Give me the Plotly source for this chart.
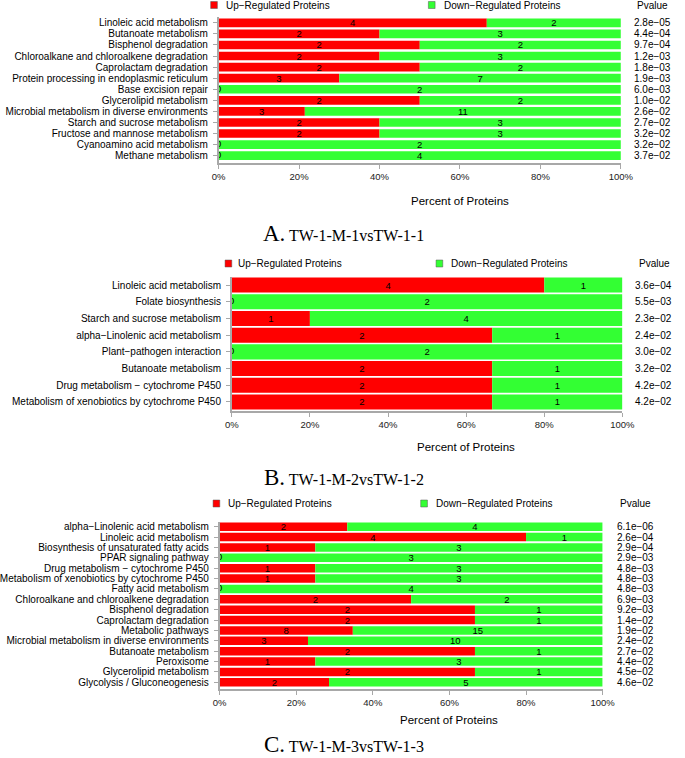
import plotly.graph_objects as go

W, H = 685, 758

# ---------------- data ----------------
a_pathways = ["Linoleic acid metabolism", "Butanoate metabolism", "Bisphenol degradation",
              "Chloroalkane and chloroalkene degradation", "Caprolactam degradation",
              "Protein processing in endoplasmic reticulum", "Base excision repair",
              "Glycerolipid metabolism", "Microbial metabolism in diverse environments",
              "Starch and sucrose metabolism", "Fructose and mannose metabolism",
              "Cyanoamino acid metabolism", "Methane metabolism"]
a_up = [4, 2, 2, 2, 2, 3, 0, 2, 3, 2, 2, 0, 0]
a_down = [2, 3, 2, 3, 2, 7, 2, 2, 11, 3, 3, 2, 4]
a_pvalues = ["2.8e−05", "4.4e−04", "9.7e−04", "1.2e−03", "1.8e−03", "1.9e−03", "6.0e−03",
             "1.0e−02", "2.6e−02", "2.7e−02", "3.2e−02", "3.2e−02", "3.7e−02"]

b_pathways = ["Linoleic acid metabolism", "Folate biosynthesis", "Starch and sucrose metabolism",
              "alpha−Linolenic acid metabolism", "Plant−pathogen interaction",
              "Butanoate metabolism", "Drug metabolism − cytochrome P450",
              "Metabolism of xenobiotics by cytochrome P450"]
b_up = [4, 0, 1, 2, 0, 2, 2, 2]
b_down = [1, 2, 4, 1, 2, 1, 1, 1]
b_pvalues = ["3.6e−04", "5.5e−03", "2.3e−02", "2.4e−02", "3.0e−02", "3.2e−02", "4.2e−02", "4.2e−02"]

c_pathways = ["alpha−Linolenic acid metabolism", "Linoleic acid metabolism",
              "Biosynthesis of unsaturated fatty acids", "PPAR signaling pathway",
              "Drug metabolism − cytochrome P450", "Metabolism of xenobiotics by cytochrome P450",
              "Fatty acid metabolism", "Chloroalkane and chloroalkene degradation",
              "Bisphenol degradation", "Caprolactam degradation", "Metabolic pathways",
              "Microbial metabolism in diverse environments", "Butanoate metabolism",
              "Peroxisome", "Glycerolipid metabolism", "Glycolysis / Gluconeogenesis"]
c_up = [2, 4, 1, 0, 1, 1, 0, 2, 2, 2, 8, 3, 2, 1, 2, 2]
c_down = [4, 1, 3, 3, 3, 3, 4, 2, 1, 1, 15, 10, 1, 3, 1, 5]
c_pvalues = ["6.1e−06", "2.6e−04", "2.9e−04", "2.9e−03", "4.8e−03", "4.8e−03", "4.8e−03",
             "6.9e−03", "9.2e−03", "1.4e−02", "1.9e−02", "2.4e−02", "2.7e−02", "4.4e−02",
             "4.5e−02", "4.6e−02"]

x_ticks = [0, 20, 40, 60, 80, 100]
x_ticktext = ["0%", "20%", "40%", "60%", "80%", "100%"]
legend_up = "Up−Regulated Proteins"
legend_down = "Down−Regulated Proteins"
x_title = "Percent of Proteins"
p_header = "Pvalue"
titles = [("A.", "TW-1-M-1vsTW-1-1"), ("B.", "TW-1-M-2vsTW-1-2"), ("C.", "TW-1-M-3vsTW-1-3")]

# ---------------- layout (pixel geometry) ----------------
panels = [
    dict(path=a_pathways, up=a_up, down=a_down, pv=a_pvalues,
         x0=212.3, x1=631.7, top=17.3, axis=163, pad=0.16, bw=0.78,
         leg_y=5, rsq=204, rtx=218, gsq=431, gtx=445, pvx=643, pvh=665,
         xt_y=201, title_y=233),
    dict(path=b_pathways, up=b_up, down=b_down, pv=b_pvalues,
         x0=226, x1=633.3, top=276.7, axis=411, pad=0.04, bw=0.9,
         leg_y=263.5, rsq=219, rtx=230, gsq=439, gtx=452, pvx=644, pvh=667,
         xt_y=447, title_y=477),
    dict(path=c_pathways, up=c_up, down=c_down, pv=c_pvalues,
         x0=213.3, x1=612.7, top=521.5, axis=689, pad=0.14, bw=0.82,
         leg_y=503.5, rsq=206.5, rtx=220, gsq=423, gtx=437, pvx=626, pvh=647,
         xt_y=720, title_y=744),
]

RED = "#FF0000"
GREEN = "#33FF33"
GRAY = "#A8A8A8"
SANS = "Liberation Sans, Arial, sans-serif"
SERIF = "Liberation Serif, Times New Roman, serif"

fig = go.Figure()
shapes, annotations = [], []
layout_axes = {}

for k, p in enumerate(panels):
    s = "" if k == 0 else str(k + 1)
    n = len(p["path"])
    ys = list(range(n))
    tot = [u + d for u, d in zip(p["up"], p["down"])]
    pct_up = [100.0 * u / t for u, t in zip(p["up"], tot)]
    pct_down = [100.0 * d / t for d, t in zip(p["down"], tot)]

    common = dict(orientation="h", width=p["bw"], xaxis="x" + s, yaxis="y" + s,
                  showlegend=False, textposition="inside", insidetextanchor="middle",
                  textangle=0, constraintext="none",
                  textfont=dict(family=SANS, size=9.5, color="black"))
    fig.add_trace(go.Bar(x=pct_up, y=ys, marker=dict(color=RED, line=dict(width=0)),
                         text=[str(u) if u > 0 else "" for u in p["up"]],
                         name=legend_up, **common))
    fig.add_trace(go.Bar(x=pct_down, y=ys, base=pct_up,
                         marker=dict(color=GREEN, line=dict(width=0)),
                         text=[str(d) for d in p["down"]], name=legend_down, **common))
    zi = [i for i, u in enumerate(p["up"]) if u == 0]
    if zi:
        fig.add_trace(go.Scatter(x=[pct_up[i] for i in zi], y=[ys[i] for i in zi],
                                 mode="text", text=[str(p["up"][i]) for i in zi],
                                 textfont=dict(family=SANS, size=9.5, color="black"),
                                 cliponaxis=True, showlegend=False,
                                 xaxis="x" + s, yaxis="y" + s))

    layout_axes["xaxis" + s] = dict(
        domain=[p["x0"] / W, p["x1"] / W], anchor="y" + s, range=[0, 100],
        tickvals=x_ticks, ticktext=x_ticktext, showline=True, linecolor=GRAY, linewidth=1.5,
        ticks="outside", ticklen=4, tickcolor=GRAY, showgrid=False, zeroline=False,
        tickfont=dict(family=SANS, size=9.5, color="#222"), fixedrange=True)
    layout_axes["yaxis" + s] = dict(
        domain=[1 - p["axis"] / H, 1 - p["top"] / H], anchor="x" + s,
        range=[n - 0.5 + p["pad"], -0.5], tickvals=ys, ticktext=p["path"],
        showline=True, linecolor=GRAY, linewidth=1.5, ticks="outside", ticklen=4,
        tickcolor=GRAY, showgrid=False, zeroline=False, ticklabelstandoff=3,
        tickfont=dict(family=SANS, size=10, color="black"), fixedrange=True)

    # legend squares + texts
    ly = 1 - p["leg_y"] / H
    sq = 7
    for xs, col in ((p["rsq"], RED), (p["gsq"], GREEN)):
        shapes.append(dict(type="rect", xref="paper", yref="paper",
                           x0=xs / W, x1=(xs + sq) / W, y0=ly - sq / 2 / H, y1=ly + sq / 2 / H,
                           fillcolor=col, line=dict(color="#555", width=0.5)))
    for xt, txt in ((p["rtx"], legend_up), (p["gtx"], legend_down)):
        annotations.append(dict(xref="paper", yref="paper", x=xt / W, y=ly, text=txt,
                                showarrow=False, xanchor="left", yanchor="middle",
                                font=dict(family=SANS, size=10, color="black")))
    annotations.append(dict(xref="paper", yref="paper", x=p["pvh"] / W, y=ly, text=p_header,
                            showarrow=False, xanchor="center", yanchor="middle",
                            font=dict(family=SANS, size=10, color="black")))
    # p-values
    for i, pv in enumerate(p["pv"]):
        annotations.append(dict(xref="paper", yref="y" + s, x=p["pvx"] / W, y=ys[i], text=pv,
                                showarrow=False, xanchor="left", yanchor="middle",
                                font=dict(family=SANS, size=10, color="black")))
    # x-axis title
    annotations.append(dict(xref="x" + s, yref="paper", x=x_ticks[3], y=1 - p["xt_y"] / H,
                            text=x_title, showarrow=False, xanchor="center", yanchor="middle",
                            font=dict(family=SANS, size=11.5, color="black")))
    # panel title
    letter, sub = titles[k]
    annotations.append(dict(xref="paper", yref="paper", x=343 / W, y=1 - p["title_y"] / H,
                            text=f"<span style='font-size:23px'>{letter}</span> {sub}",
                            showarrow=False, xanchor="center", yanchor="middle",
                            font=dict(family=SERIF, size=16, color="black")))

fig.update_layout(
    width=W, height=H, margin=dict(l=0, r=0, t=0, b=0),
    paper_bgcolor="white", plot_bgcolor="white", barmode="overlay",
    shapes=shapes, annotations=annotations, **layout_axes)

fig.write_html("out.html", config={"displayModeBar": False},
               post_script="document.body.style.margin='0';document.body.style.padding='0';")
